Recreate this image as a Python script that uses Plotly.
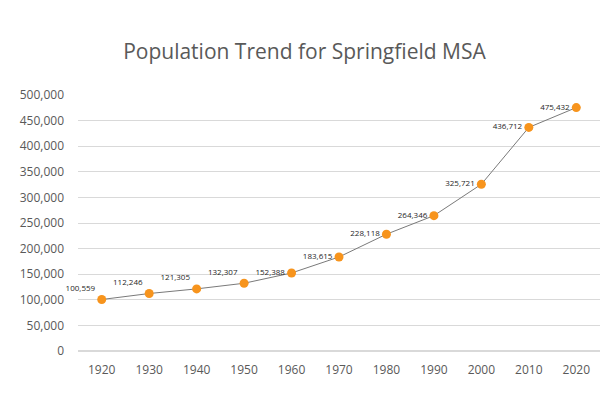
import plotly.graph_objects as go

years = ["1920", "1930", "1940", "1950", "1960", "1970", "1980", "1990", "2000", "2010", "2020"]
population = [100559, 112246, 121305, 132307, 152388, 183615, 228118, 264346, 325721, 436712, 475432]
y_ticks = [0, 50000, 100000, 150000, 200000, 250000, 300000, 350000, 400000, 450000, 500000]

positions = ["top left"] * 4 + ["middle left"] * 7

fig = go.Figure()
fig.add_trace(go.Scatter(
    x=years, y=population,
    mode="lines+markers+text",
    line=dict(color="#7a7a7a", width=1),
    marker=dict(color="#F7941D", size=9),
    text=[f"{v:,}" for v in population],
    textposition=positions,
    textfont=dict(family="Open Sans", size=8, color="#262626"),
    cliponaxis=False,
    hoverinfo="skip",
))

fig.update_layout(
    width=605, height=389,
    margin=dict(l=70, r=13, t=87, b=46, autoexpand=False),
    paper_bgcolor="white", plot_bgcolor="white",
    showlegend=False,
    title=dict(text="Population Trend for Springfield MSA", x=0.49, xanchor="center",
               y=0.887, yanchor="middle",
               font=dict(family="Open Sans", size=21, color="#595959")),
    font=dict(family="Open Sans", color="#595959"),
)
fig.update_xaxes(type="category", range=[-0.5, 10.5], showgrid=False, showline=False,
                 ticks="", ticklabelstandoff=10, automargin=False,
                 tickfont=dict(size=12, color="#595959"))
fig.update_yaxes(range=[0, 500000], tickvals=y_ticks, tickformat=",", showgrid=True,
                 gridcolor="#d9d9d9", gridwidth=1, zeroline=True, zerolinecolor="#d9d9d9",
                 showline=False, ticks="", ticklabelstandoff=13, automargin=False,
                 tickfont=dict(size=12, color="#595959"))

fig.write_html("out.html")
